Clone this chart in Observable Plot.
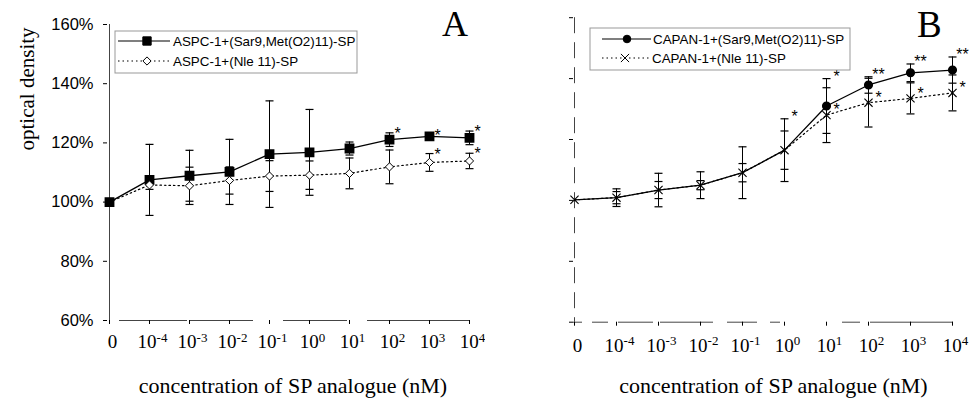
<!DOCTYPE html>
<html><head><meta charset="utf-8">
<script src="https://cdn.jsdelivr.net/npm/d3@7"></script>
<script src="https://cdn.jsdelivr.net/npm/@observablehq/plot@0.6"></script>
<style>
body{margin:0;background:#fff;}
#wrap{position:relative;width:969px;height:398px;overflow:hidden;background:#fff;}
#wrap svg{position:absolute;top:0;}
</style></head><body><div id="wrap"></div>
<script>
// ---- data ----
const concentrations = ["0","1e-4","1e-3","1e-2","1e-1","1e0","1e1","1e2","1e3","1e4"];
const tickMain = ["0","10","10","10","10","10","10","10","10","10"];
const tickExp  = ["","-4","-3","-2","-1","0","1","2","3","4"];
const yTicks = [60, 80, 100, 120, 140, 160];

const aspcSarMean = [100, 107.5, 108.9, 110.2, 116.2, 116.8, 118.1, 121.1, 122.2, 121.7];
const aspcSarErr  = [0, 12, 8.6, 11, 18, 14.5, 2.2, 2.3, 0.6, 2.3];
const aspcSarSig  = ["", "", "", "", "", "", "", "*", "*", "*"];
const aspcNleMean = [100, 105.8, 105.5, 107.3, 108.8, 109.1, 109.7, 111.9, 113.4, 113.9];
const aspcNleErr  = [0, 1.5, 6.3, 4.6, 5.2, 4.8, 5.2, 5.7, 3, 2.6];
const aspcNleSig  = ["", "", "", "", "", "", "", "", "*", "*"];

const capanSarMean = [100.2, 100.9, 103.4, 105, 109.1, 116.5, 131.0, 137.9, 141.9, 142.8];
const capanSarErr  = [0, 2, 2.8, 1.5, 3, 10.3, 9, 2.7, 2.9, 4.3];
const capanSarSig  = ["", "", "", "", "", "*", "*", "**", "**", "**"];
const capanNleMean = [100.2, 100.9, 103.4, 105, 109.1, 116.5, 128.0, 132.1, 133.5, 135.3];
const capanNleErr  = [0, 2.9, 5.5, 4.4, 8.5, 6.3, 9, 8, 5.1, 5.9];
const capanNleSig  = ["", "", "", "", "", "", "*", "*", "*", "*"];

const legendA = ["ASPC-1+(Sar9,Met(O2)11)-SP", "ASPC-1+(Nle 11)-SP"];
const legendB = ["CAPAN-1+(Sar9,Met(O2)11)-SP", "CAPAN-1+(Nle 11)-SP"];
const xTitle = "concentration of SP analogue (nM)";
const yTitle = "optical density";

// ---- helpers ----
const rows = (mean, err, sig) => concentrations.map((c, i) => ({c, i, mean: mean[i], err: err[i], sig: sig[i]}));
const capSymbol = {draw(ctx) { ctx.moveTo(-4, 0); ctx.lineTo(4, 0); }};
const SERIF = "Liberation Serif, Times New Roman, serif";
const SANS = "Liberation Sans, Arial, sans-serif";
const fmtX = d => { const i = concentrations.indexOf(d); return tickExp[i] ? tickMain[i] + "^" + tickExp[i] : tickMain[i]; };

function errMarks(data) {
  const e = data.filter(d => d.err > 0);
  return [
    Plot.ruleX(e, {x: "c", y1: d => d.mean - d.err, y2: d => d.mean + d.err, stroke: "black", strokeWidth: 1}),
    Plot.dot(e, {x: "c", y: d => d.mean + d.err, symbol: capSymbol, stroke: "black", fill: "none", strokeWidth: 1.2}),
    Plot.dot(e, {x: "c", y: d => d.mean - d.err, symbol: capSymbol, stroke: "black", fill: "none", strokeWidth: 1.2})
  ];
}

function fixTicks(svg) {
  svg.querySelectorAll('g[aria-label="x-axis tick label"] text').forEach(t => {
    const s = t.textContent;
    const [a, b] = s.split("^");
    t.setAttribute("dx", 3);
    if (b != null) {
      t.textContent = "";
      const ns = "http://www.w3.org/2000/svg";
      const t1 = document.createElementNS(ns, "tspan"); t1.textContent = a; t.appendChild(t1);
      const t2 = document.createElementNS(ns, "tspan"); t2.textContent = b;
      t2.setAttribute("font-size", 13); t2.setAttribute("dy", -6.5); t.appendChild(t2);
    }
  });
}

function legend(svg, box, items) {
  const g = d3.select(svg).append("g");
  g.append("rect").attr("x", box[0]).attr("y", box[1]).attr("width", box[2] - box[0]).attr("height", box[3] - box[1])
    .attr("fill", "none").attr("stroke", "#999").attr("stroke-width", 1);
  for (const it of items) {
    g.append("line").attr("x1", it.l1).attr("x2", it.l2).attr("y1", it.y).attr("y2", it.y)
      .attr("stroke", "black").attr("stroke-width", 1.2).attr("stroke-dasharray", it.dash || null);
    g.append("path").attr("d", d3.symbol().type(it.sym).size(Math.PI * it.r * it.r)())
      .attr("transform", `translate(${it.m},${it.y})`)
      .attr("fill", it.fill).attr("stroke", "black").attr("stroke-width", 1);
    g.append("text").attr("x", it.tx).attr("y", it.y + 4.6).attr("font-family", SANS).attr("font-size", 13.4)
      .attr("text-anchor", "start").attr("fill", "black").text(it.text);
  }
}

function letter(svg, x, y, s, size) {
  d3.select(svg).append("text").attr("x", x).attr("y", y).attr("font-family", SERIF).attr("font-size", size)
    .attr("text-anchor", "start").attr("fill", "black").text(s);
}

// ---- panel A ----
const aSar = rows(aspcSarMean, aspcSarErr, aspcSarSig);
const aNle = rows(aspcNleMean, aspcNleErr, aspcNleSig);

const left = Plot.plot({
  width: 485, height: 398, marginLeft: 107, marginRight: 15, marginTop: 24, marginBottom: 78,
  x: {type: "point", domain: concentrations, padding: 0},
  y: {domain: [60, 160]},
  style: {background: "transparent", fontFamily: SERIF, color: "black"},
  marks: [
    Plot.ruleY([60], {stroke: "#444", strokeWidth: 1, strokeDasharray: "0,12,68,3,63,30,64,20,103,10"}),
    Plot.ruleX([concentrations[0]], {stroke: "#444", strokeWidth: 1}),
    Plot.axisY({ticks: yTicks, tickSize: 4, tickPadding: 10, tickFormat: d => d + "%", fontSize: 16.5, fontFamily: SANS, label: null}),
    Plot.axisX({tickSize: 4, tickPadding: 10, tickFormat: fmtX, fontSize: 19, fontFamily: SERIF, label: null}),
    Plot.line(aNle, {x: "c", y: "mean", stroke: "black", strokeWidth: 1.2, strokeDasharray: "1.5,3"}),
    Plot.line(aSar, {x: "c", y: "mean", stroke: "black", strokeWidth: 1.3}),
    ...errMarks(aSar),
    ...errMarks(aNle),
    Plot.dot(aSar, {x: "c", y: "mean", symbol: "square", r: 4.7, fill: "black", stroke: "black"}),
    Plot.dot(aNle.slice(1), {x: "c", y: "mean", symbol: "diamond2", r: 3.7, fill: "white", stroke: "black", strokeWidth: 1}),
    Plot.text(aSar, {x: "c", y: d => d.mean + d.err, text: "sig", dx: 8, dy: 1, fontFamily: SANS, fontSize: 16}),
    Plot.text(aNle, {x: "c", y: d => d.mean + d.err, text: "sig", dx: 8, dy: 1, fontFamily: SANS, fontSize: 16}),
    Plot.text([yTitle], {frameAnchor: "left", rotate: -90, dx: -80, dy: -22, fontSize: 21, fontFamily: SERIF}),
    Plot.text([xTitle], {frameAnchor: "bottom", lineAnchor: "bottom", dx: 4, dy: 72, fontSize: 22, fontFamily: SERIF})
  ]
});
left.style.left = "0px";
fixTicks(left);
legend(left, [115, 31, 357, 73], [
  {y: 41, l1: 118, l2: 170, m: 147, sym: d3.symbolSquare, r: 4.7, fill: "black", tx: 173, text: legendA[0]},
  {y: 61, l1: 118, l2: 170, m: 147, sym: d3.symbolDiamond2, r: 3.7, fill: "white", dash: "1.5,3", tx: 173, text: legendA[1]}
]);
letter(left, 442, 36, "A", 36);
document.getElementById("wrap").appendChild(left);

// ---- panel B ----
const bSar = rows(capanSarMean, capanSarErr, capanSarSig);
const bNle = rows(capanNleMean, capanNleErr, capanNleSig);

const right = Plot.plot({
  width: 484, height: 398, marginLeft: 88, marginRight: 16, marginTop: 17.2, marginBottom: 76.3,
  x: {type: "point", domain: concentrations, padding: 0},
  y: {domain: [60, 160]},
  style: {background: "transparent", fontFamily: SERIF, color: "black"},
  marks: [
    Plot.ruleY([60], {stroke: "#444", strokeWidth: 1, strokeDasharray: "16,10,35,7,53,14,30,13,10,62,18,10,83,10", strokeDashoffset: -19}),
    Plot.ruleX([concentrations[0]], {stroke: "#444", strokeWidth: 1, strokeDasharray: "16,9"}),
    Plot.axisY({ticks: yTicks, tickSize: 4, tickFormat: () => "", label: null}),
    Plot.axisX({tickSize: 4, tickPadding: 12, tickFormat: fmtX, fontSize: 19, fontFamily: SERIF, label: null}),
    Plot.line(bNle, {x: "c", y: "mean", stroke: "black", strokeWidth: 1.2, strokeDasharray: "1.5,3"}),
    Plot.line(bSar, {x: "c", y: "mean", stroke: "black", strokeWidth: 1.3}),
    ...errMarks(bSar),
    ...errMarks(bNle),
    Plot.dot(bSar.filter(d => d.mean !== capanNleMean[d.i]), {x: "c", y: "mean", symbol: "circle", r: 3.8, fill: "black", stroke: "black"}),
    Plot.dot(bNle, {x: "c", y: "mean", symbol: "times", r: 3.8, stroke: "black", strokeWidth: 1.1}),
    Plot.text(bSar, {x: "c", y: d => d.mean + d.err, text: "sig", dx: 10, dy: -2, fontFamily: SANS, fontSize: 16}),
    Plot.text(bNle, {x: "c", y: "mean", text: "sig", dx: 10, dy: -5, fontFamily: SANS, fontSize: 16}),
    Plot.text([xTitle], {frameAnchor: "bottom", lineAnchor: "bottom", dx: 10, dy: 71, fontSize: 22, fontFamily: SERIF})
  ]
});
right.style.left = "485px";
fixTicks(right);
legend(right, [105, 28, 365, 70], [
  {y: 39, l1: 117, l2: 166, m: 142, sym: d3.symbolCircle, r: 3.8, fill: "black", tx: 168, text: legendB[0]},
  {y: 58, l1: 117, l2: 166, m: 140, sym: d3.symbolTimes, r: 3.8, fill: "none", dash: "1.5,3", tx: 167, text: legendB[1]}
]);
letter(right, 432, 36.5, "B", 37);
document.getElementById("wrap").appendChild(right);
</script>
</body></html>
